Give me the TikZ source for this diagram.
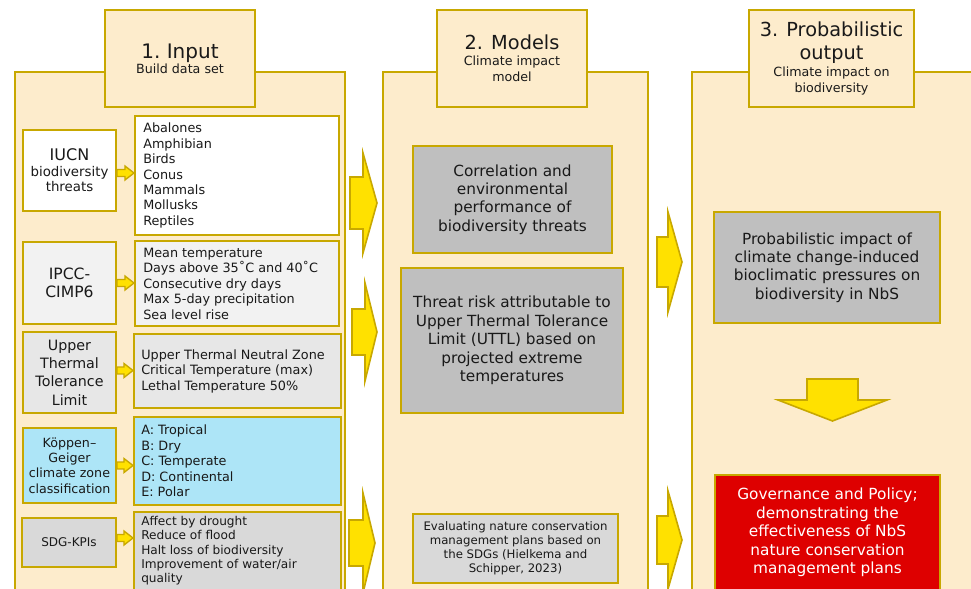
\documentclass[tikz,border=0pt]{standalone}
\usepackage{fontspec}
\setmainfont{DejaVu Sans}
\usetikzlibrary{calc}
\definecolor{cream}{RGB}{253,236,204}
\definecolor{olive}{RGB}{200,168,0}
\definecolor{ayellow}{RGB}{255,225,0}
\definecolor{gA}{RGB}{191,191,191}
\definecolor{gB}{RGB}{217,217,217}
\definecolor{gC}{RGB}{242,242,242}
\definecolor{gD}{RGB}{231,231,231}
\definecolor{kblue}{RGB}{173,229,247}
\definecolor{gred}{RGB}{222,0,0}
\definecolor{ink}{RGB}{25,25,25}
\tikzset{
  box/.style={draw=olive, line width=1.5pt, inner sep=0pt, align=center, text=ink},
  wh/.style 2 args={minimum width=#1*0.75pt, minimum height=#2*0.75pt},
  colbox/.style={draw=olive, fill=cream, line width=1.5pt},
  titlebox/.style={box, fill=cream, font=\fontsize{9.5}{12}\selectfont},
  listtxt/.style={inner sep=0pt, align=left, text=ink, font=\fontsize{9.6}{11.6}\selectfont},
  midtxt/.style={font=\fontsize{11.5}{13.8}\selectfont},
  blk/.style={draw=olive, fill=ayellow, line width=1.2pt, line join=miter}}
\newcommand\smallarrow[3]{%
  \draw[blk, line width=1pt] let \p1=(#1), \p2=(#2) in
    (\x1,{\y1-(#3)*0.75pt+2.6pt}) -- ({\x2-6.8pt},{\y1-(#3)*0.75pt+2.6pt})
    -- ({\x2-6.8pt},{\y1-(#3)*0.75pt+5.3pt}) -- (\x2,{\y1-(#3)*0.75pt})
    -- ({\x2-6.8pt},{\y1-(#3)*0.75pt-5.3pt}) -- ({\x2-6.8pt},{\y1-(#3)*0.75pt-2.6pt})
    -- (\x1,{\y1-(#3)*0.75pt-2.6pt}) -- cycle;}
\newcommand\bigarrow[6]{%
  \draw[blk] (#1,{#3-#4}) -- ({#2-#6},{#3-#4}) -- ({#2-#6},{#3-#5}) -- (#2,#3)
    -- ({#2-#6},{#3+#5}) -- ({#2-#6},{#3+#4}) -- (#1,{#3+#4}) -- cycle;}
\begin{document}
\begin{tikzpicture}[x=0.75pt,y=-0.75pt]
\clip (0,0) rectangle (971,589);
\fill[white] (0,0) rectangle (971,589);

% columns
\draw[colbox] (15,72) rectangle (345,610);
\draw[colbox] (383,72) rectangle (648,610);
\draw[colbox] (692,72) rectangle (1000,610);

% titles
\node[titlebox, wh={150}{97}] (t1) at (180,58.5)
  {{\fontsize{15}{17}\selectfont 1.~Input}\\[-1pt]Build data set};
\node[titlebox, wh={150}{97}] (t2) at (512,58.5)
  {{\fontsize{14.5}{17}\selectfont 2. Models}\\Climate impact\\model};
\node[titlebox, wh={165}{97}] (t3) at (831.5,58.5)
  {{\fontsize{14.5}{17}\selectfont 3. Probabilistic}\\[5.5pt]{\fontsize{14.5}{17}\selectfont output}\\[0.8pt]Climate impact on\\biodiversity};

% column 1 : left boxes
\node[box, fill=white, wh={93}{81}, font=\fontsize{10}{11.6}\selectfont] (iucn) at (69.5,170.5)
  {{\fontsize{12}{14}\selectfont IUCN}\\biodiversity\\threats};
\node[box, fill=gC, wh={93}{82}, font=\fontsize{11.7}{13.8}\selectfont] (ipcc) at (69.5,283)
  {IPCC-\\CIMP6};
\node[box, fill=gD, wh={93}{81}, font=\fontsize{10.7}{13.8}\selectfont] (uttl) at (69.5,372.5)
  {Upper\\Thermal\\Tolerance\\Limit};
\node[box, fill=kblue, wh={93}{75}, font=\fontsize{9.5}{11.6}\selectfont] (kop) at (69.5,465.5)
  {Köppen–\\Geiger\\climate zone\\classification};
\node[box, fill=gB, wh={94}{49}, font=\fontsize{9}{11}\selectfont] (sdg) at (69,542.5)
  {SDG-KPIs};

% column 1 : list boxes
\node[box, fill=white, wh={204}{119}] (iucnL) at (237,175.5) {};
\node[listtxt, anchor=west] at ([xshift=6.75pt]iucnL.west)
  {Abalones\\Amphibian\\Birds\\Conus\\Mammals\\Mollusks\\Reptiles};
\node[box, fill=gC, wh={204}{85}] (ipccL) at (237,283.5) {};
\node[listtxt, anchor=west] at ([xshift=6.75pt]ipccL.west)
  {Mean temperature\\Days above 35˚C and 40˚C\\Consecutive dry days\\Max 5-day precipitation\\Sea level rise};
\node[box, fill=gD, wh={207}{74}] (uttlL) at (237.5,371) {};
\node[listtxt, anchor=west] at ([xshift=6pt]uttlL.west)
  {Upper Thermal Neutral Zone\\Critical Temperature (max)\\Lethal Temperature 50\%};
\node[box, fill=kblue, wh={207}{88}] (kopL) at (237.5,461) {};
\node[listtxt, anchor=west] at ([xshift=6pt]kopL.west)
  {A: Tropical\\B: Dry\\C: Temperate\\D: Continental\\E: Polar};
\node[box, fill=gB, wh={207}{96}] (sdgL) at (237.5,560) {};
\node[listtxt, anchor=north west, font=\fontsize{9.1}{10.7}\selectfont] at ([xshift=6pt,yshift=-3.8pt]sdgL.north west)
  {Affect by drought\\Reduce of flood\\Halt loss of biodiversity\\Improvement of water/air\\quality};

% small arrows
\smallarrow{iucn.east}{iucnL.west}{2.5}
\smallarrow{ipcc.east}{ipccL.west}{0}
\smallarrow{uttl.east}{uttlL.west}{-2}
\smallarrow{kop.east}{kopL.west}{0}
\smallarrow{sdg.east}{sdgL.west}{-4.5}

% column 2
\node[box, fill=gA, wh={199}{107}, midtxt] (corr) at (512.5,199.5)
  {Correlation and\\environmental\\performance of\\biodiversity threats};
\node[box, fill=gA, wh={222}{145}, midtxt] (threat) at (512,340.5)
  {Threat risk attributable to\\Upper Thermal Tolerance\\Limit (UTTL) based on\\projected extreme\\temperatures};
\node[box, fill=gB, wh={205}{69}, font=\fontsize{8.8}{10.5}\selectfont] (eval) at (515.5,548.5)
  {Evaluating nature conservation\\management plans based on\\the SDGs (Hielkema and\\Schipper, 2023)};

% column 3
\node[box, fill=gA, wh={226}{111}, midtxt] (prob) at (827,267.5)
  {Probabilistic impact of\\climate change-induced\\bioclimatic pressures on\\biodiversity in NbS};
\node[box, fill=gred, wh={225}{150}] (gov) at (827.5,550) {};
\node[midtxt, text=white, align=center, inner sep=0pt] at (827.5,532.5)
  {Governance and Policy;\\demonstrating the\\effectiveness of NbS\\nature conservation\\management plans};

% big arrows
\bigarrow{350}{377}{203}{26}{50}{14}
\bigarrow{352}{377}{332}{23}{49}{12}
\bigarrow{349}{375}{543}{23}{50}{12}
\bigarrow{657}{682}{262}{25}{50}{14}
\bigarrow{657}{682}{540}{24}{49}{14}
\draw[blk] (807,379) -- (858,379) -- (858,400) -- (887,400) -- (832.5,421)
  -- (778,400) -- (807,400) -- cycle;
\end{tikzpicture}
\end{document}
